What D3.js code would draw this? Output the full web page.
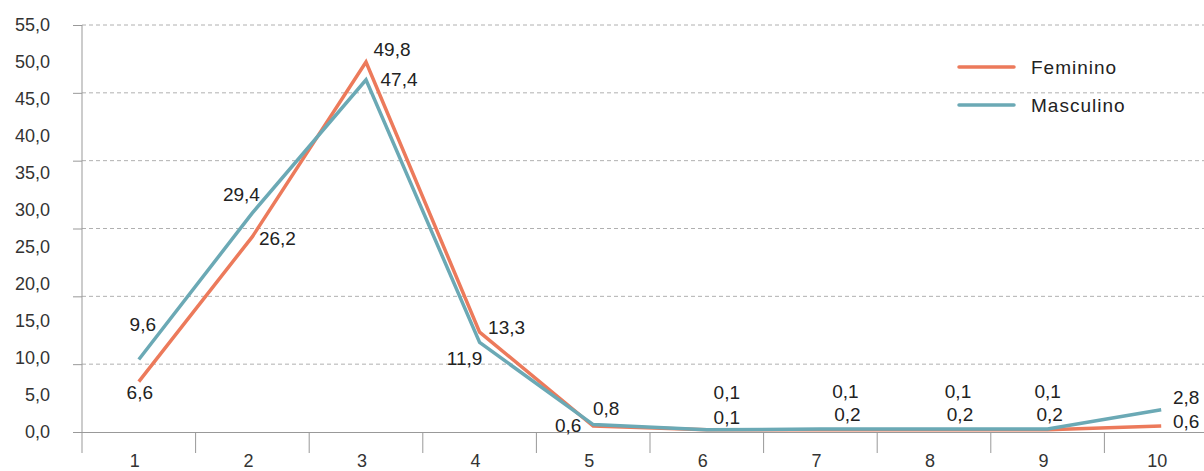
<!DOCTYPE html>
<html><head><meta charset="utf-8">
<script src="https://cdn.jsdelivr.net/npm/d3@7"></script>
<style>body{margin:0;background:#fff}svg{display:block}text{font-family:"Liberation Sans",Arial,sans-serif}</style>
</head><body><svg id="c" width="1204" height="471"></svg>
<script>
const categories = ["1","2","3","4","5","6","7","8","9","10"];
const feminino = [6.6, 26.2, 49.8, 13.3, 0.6, 0.1, 0.1, 0.1, 0.1, 0.6];
const masculino = [9.6, 29.4, 47.4, 11.9, 0.8, 0.1, 0.2, 0.2, 0.2, 2.8];
const yTickLabels = [0,5,10,15,20,25,30,35,40,45,50,55];
// label texts as displayed (upper / lower) at each category
const labelTop = ["9,6","29,4","49,8","13,3","0,8","0,1","0,1","0,1","0,1","2,8"];
const labelBot = ["6,6","26,2","47,4","11,9","0,6","0,1","0,2","0,2","0,2","0,6"];
// label offsets relative to line point (layout only)
const topOff = [[4,-35],[-11,-19],[26,-13],[27,-5],[13,-16],[20,-37],[25,-38],[24,-38],[0,-38],[25,-12]];
const botOff = [[1,11],[25,2],[33,0],[-15,16],[-25,-1],[20,-12],[27,-15],[26,-15],[2,-15],[25,-5]];

const svg = d3.select("#c");
const colF = "#EC7A5B", colM = "#6BA9B5";
const x = d3.scaleBand().domain(categories).range([82, 1218]);
const y = d3.scaleLinear().domain([0, 55]).range([432, 25]);
const yData = d3.scaleLinear().domain([0, 55]).range([430.5, 23.5]);
const cx = d => x(d) + x.bandwidth()/2;

// gridlines (6 equal divisions)
const grid = d3.range(1, 7).map(k => 55 * k / 6);
svg.append("g").selectAll("line").data(grid).join("line")
  .attr("x1", 82).attr("x2", 1204).attr("y1", d => y(d)).attr("y2", d => y(d))
  .attr("stroke", "#b0b0b0").attr("stroke-width", 1).attr("stroke-dasharray", "4,3");

// left axis: line + tick marks at gridlines
const yAxis = d3.axisLeft(y).tickValues([0, ...grid]).tickSize(9).tickFormat("");
const gy = svg.append("g").attr("transform", "translate(82,0)").call(yAxis);
gy.selectAll("path,line").attr("stroke", "#999");
gy.select(".domain").attr("d", `M0,${y(55)}V${y(0)}`);

// y labels (independent even spacing)
svg.append("g").selectAll("text").data(yTickLabels).join("text")
  .attr("x", 50).attr("y", d => y(d)).attr("dy", "0.35em")
  .attr("text-anchor", "end").attr("font-size", 18).attr("fill", "#333")
  .text(d => d.toFixed(1).replace(".", ","));

// bottom axis
const xAxis = d3.axisBottom(x).tickSize(0).tickFormat("");
const gx = svg.append("g").attr("transform", `translate(0,${y(0)})`).call(xAxis);
gx.select(".domain").attr("stroke", "#999").attr("d", `M82,0.5H1204`);
svg.append("g").selectAll("line").data(categories).join("line")
  .attr("x1", d => x(d)).attr("x2", d => x(d)).attr("y1", y(0)).attr("y2", y(0)+21)
  .attr("stroke", "#999");
svg.append("g").selectAll("text").data(categories).join("text")
  .attr("x", d => cx(d) - 4).attr("y", 461).attr("dy", "0.35em")
  .attr("text-anchor", "middle").attr("font-size", 18).attr("fill", "#333").text(d => d);

// lines
const line = d3.line().x((d, i) => cx(categories[i])).y(d => yData(d));
svg.append("path").datum(feminino).attr("d", line).attr("fill", "none")
  .attr("stroke", colF).attr("stroke-width", 3.5);
svg.append("path").datum(masculino).attr("d", line).attr("fill", "none")
  .attr("stroke", colM).attr("stroke-width", 3.5);

// data labels
const upperLabels = categories.map((c, i) => ({c, i, t: labelTop[i], v: Math.max(feminino[i], masculino[i]), o: topOff[i]}));
const lowerLabels = categories.map((c, i) => ({c, i, t: labelBot[i], v: Math.min(feminino[i], masculino[i]), o: botOff[i]}));
svg.append("g").selectAll("text").data(upperLabels.concat(lowerLabels)).join("text")
  .attr("x", d => cx(d.c) + d.o[0]).attr("y", d => yData(d.v) + d.o[1]).attr("dy", "0.35em")
  .attr("text-anchor", "middle").attr("font-size", 19).attr("fill", "#222").text(d => d.t);

// legend
const legend = [{n: "Feminino", c: colF}, {n: "Masculino", c: colM}];
const lg = svg.append("g").selectAll("g").data(legend).join("g")
  .attr("transform", (d, i) => `translate(959,${67 + i*38})`);
lg.append("line").attr("x1", 0).attr("x2", 55).attr("stroke", d => d.c)
  .attr("stroke-width", 3.5).attr("stroke-linecap", "round");
lg.append("text").attr("x", 72).attr("dy", "0.35em").attr("font-size", 19)
  .attr("letter-spacing", 1).attr("fill", "#222").text(d => d.n);
</script></body></html>
